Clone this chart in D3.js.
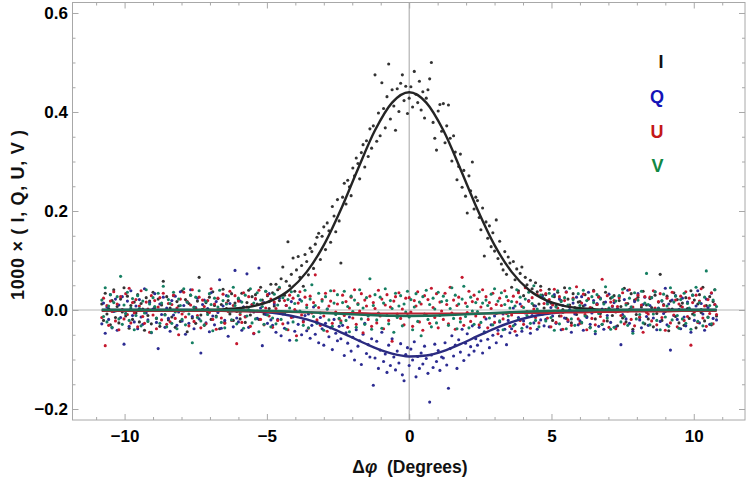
<!DOCTYPE html>
<html><head><meta charset="utf-8">
<script src="https://cdn.jsdelivr.net/npm/d3@7"></script>
<style>body{margin:0;background:#fff}svg{display:block}</style>
</head><body>
<svg id="c" width="747" height="477"></svg>
<script>
// ---- sample grid (Δφ, degrees): 361 samples from -10.8 to 10.8 ----
const phiFirst = -10.8, phiStep = 0.06, phiCount = 361;
const dphi = d3.range(phiCount).map(i => +(phiFirst + i * phiStep).toFixed(2));

// ---- measured Stokes values (1000 ×), one per sample ----
const seriesI = [
.012,-.021,.034,-.008,.003,-.030,.019,.041,-.015,.007,-.026,.022,-.004,.045,-.012,.028,-.037,.009,-.019,.016,
-.006,.031,-.024,.013,.002,-.041,.025,-.011,.018,-.028,.036,.005,-.017,.022,-.033,.010,.058,-.009,.027,-.020,
.004,-.014,.029,-.035,.017,.008,-.023,.039,-.002,.021,-.044,.013,.030,-.016,.006,-.027,.018,.066,-.010,.001,
-.031,.015,-.005,.026,-.019,.037,.009,-.012,.023,-.038,.011,.042,-.025,.003,.019,-.008,.033,-.021,.014,-.003,
.021,-.018,.034,.006,-.025,.015,.040,-.010,.027,-.004,.031,.012,-.019,.046,.020,-.008,.038,.029,.003,.052,
.035,.008,.052,.041,.019,.063,.087,.030,.058,.138,.049,.072,.105,.038,.081,.108,.066,.090,.048,.112,
.098,.071,.125,.118,.084,.133,.147,.155,.102,.149,.168,.122,.176,.160,.137,.209,.190,.158,.223,.180,
.095,.228,.256,.214,.262,.249,.231,.287,.271,.307,.296,.265,.318,.334,.289,.342,.310,.366,.327,.372,
.475,.341,.398,.352,.459,.407,.368,.431,.497,.386,.445,.412,.363,.447,.401,.458,.475,.423,.452,.397,
.428,.451,.410,.482,.436,.419,.462,.404,.441,.388,.428,.445,.467,.500,.379,.347,.323,.402,.415,.361,
.417,.338,.372,.414,.347,.301,.352,.319,.263,.290,.315,.248,.282,.230,.196,.271,.241,.299,.204,.228,
.221,.187,.162,.206,.109,.178,.145,.170,.128,.156,.119,.182,.104,.139,.093,.081,.118,.072,.107,.095,
.046,.098,.061,.083,.039,.074,.087,.029,.066,.051,.018,.060,.043,.009,.055,.037,.012,.048,.030,.004,
.031,-.006,.042,.014,-.021,.027,.008,.036,-.012,.019,.001,.045,-.017,.022,.010,-.026,.033,.005,-.009,.016,
.017,-.026,.008,.031,-.013,.022,-.035,.004,.040,-.018,.011,.027,-.007,-.029,.015,.036,-.022,.002,.024,-.011,
.029,-.004,-.032,.019,.007,-.016,.044,-.024,.013,.001,.033,-.039,.020,-.009,.026,-.015,.006,.038,-.028,.010,
-.018,.023,.005,-.034,.030,-.007,.016,.072,-.021,.011,-.003,.028,-.042,.018,.002,.035,-.013,.021,-.026,.008,
.014,-.031,.025,.003,-.017,.039,-.008,.020,-.036,.012,.031,-.005,.046,-.022,.009,-.014,.027,-.030,.017,.041,
-.012];

const seriesQ = [
-.028,.014,-.047,.006,-.019,.031,-.036,-.003,.022,-.041,.010,-.015,.027,-.069,-.007,.018,-.033,.039,-.011,-.024,
.008,-.038,.021,-.014,-.029,.043,-.006,-.020,.015,-.046,.002,.033,-.025,-.078,.012,-.009,.026,-.035,.004,-.017,
-.043,.019,-.010,.028,-.031,-.004,.037,-.022,.009,-.049,.016,-.027,.041,-.013,-.038,.005,.024,-.018,-.087,.011,
.020,-.026,.003,-.044,.035,-.012,-.030,.017,-.005,.061,-.037,.008,-.021,.029,-.053,.013,-.002,-.034,.080,-.016,
-.024,.018,-.041,.006,-.013,.073,-.035,-.002,.011,-.048,.022,-.017,.085,.004,-.072,.015,-.009,-.027,.033,-.020,
-.031,.012,-.045,-.019,.024,-.052,-.008,-.037,.009,-.026,-.061,.017,-.014,-.043,-.003,-.029,.021,-.050,-.022,-.011,
-.042,-.008,-.057,-.031,.006,-.049,-.024,-.066,-.015,-.038,-.071,-.027,.002,-.054,-.036,-.080,-.019,-.047,-.062,-.033,
-.058,-.031,-.092,-.046,-.067,-.014,-.083,-.055,-.101,-.040,-.073,-.062,-.110,-.049,-.027,-.088,-.070,-.095,-.058,-.152,
-.097,-.063,-.118,-.081,-.045,-.104,-.089,-.126,-.071,-.112,-.058,-.095,-.121,-.083,-.107,-.068,-.131,-.143,-.090,-.076,
-.112,-.079,-.101,-.064,-.135,-.094,-.118,-.087,-.109,-.073,-.098,-.128,-.186,-.091,-.116,-.069,-.104,-.082,-.122,-.095,
-.097,-.066,-.111,-.158,-.078,-.052,-.093,-.071,-.118,-.060,-.085,-.039,-.102,-.067,-.048,-.091,-.074,-.032,-.083,-.058,
-.071,-.035,-.062,-.087,-.044,-.018,-.059,-.076,-.030,-.051,-.012,-.066,-.041,-.024,-.053,-.008,-.039,-.070,-.021,-.046,
-.038,.004,-.029,-.051,-.015,.012,-.043,-.022,-.006,-.034,.019,-.047,-.011,-.026,.008,-.039,-.003,-.020,.027,-.032,
-.019,.016,-.034,.005,-.012,.031,-.027,-.004,.022,-.040,.009,-.016,.037,-.023,.001,-.045,.014,-.008,.026,-.030,
-.022,.027,-.041,.010,-.015,.036,-.029,-.006,.019,-.048,.013,-.033,.024,.002,-.039,.016,-.011,.032,-.025,.007,
.015,-.034,.003,.028,-.070,-.009,.021,-.018,.040,-.027,.006,-.043,.017,-.002,.033,-.020,-.036,.011,.026,-.013,
-.031,.009,.025,-.016,.037,-.040,.004,-.023,.018,-.007,.044,-.030,.012,-.081,.020,-.011,.029,-.019,.001,-.038,
.024,-.014,-.032,.016,.002,-.045,.030,-.021,.008,.039,-.026,.013,-.008,-.041,.022,.005,-.029,.034,-.017,.011,
-.020];

const seriesU = [
-.015,.024,-.072,.009,-.031,.018,-.003,.037,-.022,.012,-.040,.027,.001,-.018,.033,-.009,.044,-.026,.015,-.006,
.021,-.034,.008,.039,-.013,-.027,.016,.002,-.045,.029,-.010,.019,-.038,.006,.025,-.020,.034,-.001,-.029,.013,
-.024,.011,.030,-.017,.004,-.050,.022,-.008,.036,-.014,.017,-.032,.010,.041,-.023,.003,-.011,.026,-.036,.020,
.007,-.028,.019,-.005,.043,-.019,.012,-.039,.024,.000,-.016,.032,-.027,.014,-.003,.038,-.021,.009,.029,-.068,
.018,-.009,-.025,.035,-.014,.006,.027,-.033,.011,-.047,.023,-.002,.040,-.019,.013,-.030,.004,.031,-.012,.022,
-.035,.016,.003,-.021,.044,-.007,-.028,.019,.009,-.040,.030,-.015,.024,.001,-.052,.014,.037,-.010,-.024,.026,
.010,-.037,.028,-.006,.015,.071,-.020,.005,-.031,.021,-.012,.034,-.043,.008,.018,-.027,.039,-.004,.012,-.018,
-.022,.030,-.011,.017,-.035,.004,.026,-.016,.041,-.029,.013,-.002,.033,-.046,.020,.008,-.019,.028,-.033,.015,
.003,-.026,.040,-.012,.022,-.038,.010,.031,-.021,.006,-.063,.018,.027,-.008,.035,-.017,.002,-.030,.024,-.011,
.025,-.004,-.033,.019,.008,.037,-.024,.012,-.041,.029,-.010,.021,-.027,.044,.005,-.015,.033,-.036,.016,-.002,
-.019,.034,.011,-.028,.046,-.006,.020,-.039,.009,.026,-.017,.066,-.031,.014,-.005,.038,-.023,.017,.030,-.012,
.022,-.030,.006,.041,-.014,.027,-.036,.015,.003,.034,-.025,.011,-.048,.024,.009,-.018,.039,-.007,.019,-.033,
-.010,.028,-.043,.016,.035,-.021,.007,-.029,.045,-.003,.018,-.037,.025,.002,-.015,.031,-.026,.040,-.008,.013,
.033,-.016,.021,-.034,.010,.042,-.025,.004,.027,-.012,-.039,.019,.036,-.020,.007,-.031,.024,-.004,.047,-.018,
-.027,.014,.032,-.009,-.040,.023,.005,-.017,.038,-.030,.011,.026,-.013,.062,-.022,.001,.029,-.035,.016,.008,
.019,-.038,.007,.025,-.011,.035,-.028,.013,-.002,.041,-.019,.006,-.032,.022,.030,-.014,.010,-.045,.027,-.005,
-.008,.026,-.022,.039,.004,-.030,.017,.033,-.015,.009,-.041,.024,.002,-.026,.036,-.010,.020,-.034,.012,.028,
.006,-.021,.037,-.013,.024,-.071,.015,-.004,.030,-.025,.018,.043,-.016,.008,-.033,.021,-.007,.035,-.028,.011,
-.009];

const seriesV = [
.020,-.013,.045,-.024,.008,.031,-.035,.015,-.002,.027,-.018,.068,-.029,.010,-.007,.036,-.021,.004,.023,-.040,
-.011,.029,.003,-.032,.018,-.006,.041,-.023,.012,-.045,.025,.007,-.016,.034,-.027,.014,.048,-.010,-.034,.021,
.013,-.027,.036,-.004,-.038,.022,.009,-.019,.043,-.030,.016,-.008,.030,-.066,.005,.026,-.015,.039,-.022,.001,
-.030,.017,-.009,.033,.011,-.042,.024,-.014,.006,.040,-.025,.019,-.036,.012,.028,-.003,-.020,.046,.009,-.028,
.024,-.005,.016,-.037,.030,-.012,.001,.043,-.026,.014,-.018,.035,-.044,.020,.007,-.029,.038,-.010,.017,-.034,
-.016,.032,-.028,.010,.046,-.019,.025,-.007,-.039,.021,.004,.037,-.024,.013,-.061,.029,-.002,.018,-.031,.040,
.005,-.036,.022,.051,-.013,.009,-.027,.034,-.006,.018,-.041,.027,.002,-.020,.039,-.033,.014,-.009,.031,-.017,
-.026,.015,.038,-.021,.007,-.044,.028,-.003,.020,-.035,.011,.041,-.018,.004,-.029,.025,-.012,.063,-.039,.009,
.031,-.020,-.006,.026,-.037,.014,.043,-.011,-.028,.019,.003,-.045,.034,-.015,.008,.029,-.032,.012,-.004,.038,
-.014,.021,-.040,.006,.033,-.023,.016,-.052,.027,-.008,.040,-.019,.011,-.034,.024,.002,-.026,.036,-.011,.017,
.028,-.009,.019,-.031,.003,.045,-.017,.030,-.038,.012,-.024,.022,.048,-.013,.007,-.036,.026,-.002,-.029,.015,
-.003,.037,-.025,.014,-.046,.020,.009,-.016,.032,-.030,.043,-.007,.018,-.022,.035,-.040,.011,.027,-.012,.004,
.017,-.032,.008,.041,-.019,.026,-.037,.005,.022,-.011,.036,-.027,.013,.049,-.021,.002,-.034,.030,-.008,.023,
-.022,.012,.034,-.015,.028,-.041,.006,.039,-.028,.017,-.005,.025,-.038,.010,.044,-.018,.021,-.031,.003,.033,
.009,-.025,.040,-.012,.019,.001,-.036,.027,.015,-.043,.031,-.007,.022,-.029,.012,.047,-.016,.004,-.039,.026,
-.035,.018,-.002,.029,-.024,.042,-.013,.010,-.031,.024,.006,-.047,.035,-.018,.020,-.009,.038,-.026,.014,.074,
.011,-.030,.025,-.008,.037,-.021,.003,-.040,.019,.032,-.014,.008,-.033,.045,-.020,.016,.028,-.011,-.037,.021,
-.018,.034,-.027,.013,.004,-.039,.030,-.010,.046,-.023,.015,.001,-.032,.026,.079,-.015,.009,-.028,.020,.041,
.007];

// ---- fitted curves, sampled at these Δφ ----
const fitPhi = [-10.8,-10.2,-9.6,-9,-8.4,-7.8,-7.2,-6.6,-6,-5.4,-4.8,-4.2,-3.6,-3,-2.4,-1.8,-1.2,-0.6,0,
                0.6,1.2,1.8,2.4,3,3.6,4.2,4.8,5.4,6,6.6,7.2,7.8,8.4,9,9.6,10.2,10.8];
const fitI = [0,0,0,0,0,0,.0004,.0012,.0035,.009,.020,.041,.077,.131,.203,.285,.363,.419,.440,
              .419,.363,.285,.203,.131,.077,.041,.020,.009,.0035,.0012,.0004,0,0,0,0,0,0];
const fitQ = [0,0,0,0,0,0,-.0003,-.0005,-.0013,-.0029,-.0058,-.011,-.0191,-.0305,-.045,-.0611,-.0765,-.0882,-.0938,
              -.0919,-.083,-.069,-.0529,-.0374,-.0244,-.0146,-.0081,-.0041,-.0019,-.0008,-.0003,0,0,0,0,0,0];
const fitU = [-.002,-.002,-.002,-.002,-.002,-.002,-.002,-.002,-.003,-.003,-.004,-.004,-.005,-.005,-.006,-.006,-.007,-.007,-.007,
              -.007,-.007,-.007,-.007,-.007,-.006,-.006,-.006,-.005,-.005,-.004,-.004,-.003,-.003,-.003,-.002,-.002,-.002];
const fitV = [0,0,0,0,0,0,0,-.0003,-.0006,-.0012,-.0019,-.0029,-.0043,-.0059,-.0076,-.0093,-.0107,-.0117,-.012,
              -.0117,-.0107,-.0093,-.0076,-.0059,-.0043,-.0029,-.0019,-.0012,-.0006,-.0003,0,0,0,0,0,0,0];

const xTicksMajor = [-10,-5,0,5,10];
const yTicksMajor = [-0.2,0,0.2,0.4,0.6];
const legendLabels = ["I","Q","U","V"];

// ---- layout ----
const L = 72.5, R = 745, T = 2.5, B = 420;
const x = d3.scaleLinear().domain([-11.83, 11.8]).range([L, R]);
const y = d3.scaleLinear().domain([-0.2222, 0.6212]).range([B, T]);
const svg = d3.select("#c");
const font = "'Liberation Sans', Arial, Helvetica, sans-serif";
const frameCol = "#a8a8a8";

// zero axes
svg.append("line").attr("x1", L).attr("x2", R).attr("y1", y(0)).attr("y2", y(0))
  .attr("stroke", "#b8b8b8").attr("stroke-width", 1);
svg.append("line").attr("x1", x(0)).attr("x2", x(0)).attr("y1", T).attr("y2", B)
  .attr("stroke", "#a4a4a4").attr("stroke-width", 1);

// points
const ptCols = ["#333333", "#2c2c92", "#c4182e", "#157f62"];
[seriesI, seriesQ, seriesU, seriesV].forEach((s, k) => {
  const n = Math.min(s.length, dphi.length);
  svg.append("g").selectAll("circle").data(d3.range(n)).join("circle")
    .attr("cx", i => x(dphi[i])).attr("cy", i => y(s[i]))
    .attr("r", 1.55).attr("fill", ptCols[k]);
});

// fit lines
const lineCols = ["#242424", "#2b2b80", "#bb2030", "#1b6e56"];
const lineW = [2.4, 2.4, 2.1, 2.4];
[fitI, fitQ, fitU, fitV].forEach((s, k) => {
  const line = d3.line().x((d, i) => x(fitPhi[i])).y(d => y(d)).curve(d3.curveMonotoneX);
  svg.append("path").attr("d", line(s)).attr("fill", "none")
    .attr("stroke", lineCols[k]).attr("stroke-width", lineW[k]).attr("stroke-linejoin", "round");
});

// frame
svg.append("rect").attr("x", L).attr("y", T).attr("width", R - L).attr("height", B - T)
  .attr("fill", "none").attr("stroke", frameCol).attr("stroke-width", 1);

const xMinor = d3.range(-11, 12).filter(v => v % 5 !== 0);
const yMinor = d3.range(-4, 13).map(v => +(v * 0.05).toFixed(2)).filter(v => Math.abs(Math.round(v * 5) - v * 5) > 1e-6);

function styleAxis(g) {
  g.select(".domain").remove();
  g.selectAll(".tick line").attr("stroke", frameCol);
  g.selectAll("text").attr("font-family", font).attr("font-weight", "bold")
    .attr("font-size", 17).attr("fill", "#000");
}
const fmtX = d => d < 0 ? "\u2212" + Math.abs(d) : String(d);
const fmtY = d3.format(".1f");

// bottom
svg.append("g").attr("transform", `translate(0,${B})`)
  .call(d3.axisBottom(x).tickValues(xTicksMajor).tickSize(-6).tickPadding(10).tickFormat(fmtX)).call(styleAxis);
svg.append("g").attr("transform", `translate(0,${B})`)
  .call(d3.axisBottom(x).tickValues(xMinor).tickSize(-3).tickFormat("")).call(styleAxis);
// top
svg.append("g").attr("transform", `translate(0,${T})`)
  .call(d3.axisTop(x).tickValues(xTicksMajor).tickSize(-6).tickFormat("")).call(styleAxis);
svg.append("g").attr("transform", `translate(0,${T})`)
  .call(d3.axisTop(x).tickValues(xMinor).tickSize(-3).tickFormat("")).call(styleAxis);
// left
svg.append("g").attr("transform", `translate(${L},0)`)
  .call(d3.axisLeft(y).tickValues(yTicksMajor).tickSize(-6).tickPadding(4.5).tickFormat(fmtY)).call(styleAxis);
svg.append("g").attr("transform", `translate(${L},0)`)
  .call(d3.axisLeft(y).tickValues(yMinor).tickSize(-3).tickFormat("")).call(styleAxis);
// right
svg.append("g").attr("transform", `translate(${R},0)`)
  .call(d3.axisRight(y).tickValues(yTicksMajor).tickSize(-6).tickFormat("")).call(styleAxis);
svg.append("g").attr("transform", `translate(${R},0)`)
  .call(d3.axisRight(y).tickValues(yMinor).tickSize(-3).tickFormat("")).call(styleAxis);

// axis titles
svg.append("text").attr("transform", "translate(24,215) rotate(-90)")
  .attr("text-anchor", "middle").attr("font-family", font).attr("font-weight", "bold")
  .attr("font-size", 18).attr("fill", "#111")
  .attr("textLength", 170).attr("lengthAdjust", "spacing")
  .text("1000 \u00d7 ( I, Q, U, V )");
const xt = svg.append("text").attr("x", 410).attr("y", 473).attr("text-anchor", "middle")
  .attr("font-family", font).attr("font-weight", "bold").attr("font-size", 17.5).attr("fill", "#111");
xt.append("tspan").text("\u0394");
xt.append("tspan").attr("font-style", "italic").text("\u03c6");
xt.append("tspan").text("\u00a0\u00a0(Degrees)");

// legend
const legCols = ["#111111", "#1414b8", "#c41818", "#118844"];
const legX = [661, 657, 657, 657.5];
const legY = [62, 97, 132, 166];
legendLabels.forEach((t, k) => {
  svg.append("text").attr("x", legX[k]).attr("y", legY[k]).attr("dy", "0.36em")
    .attr("text-anchor", "middle").attr("font-family", font).attr("font-weight", "bold")
    .attr("font-size", 18).attr("fill", legCols[k]).text(t);
});
</script>
</body></html>
